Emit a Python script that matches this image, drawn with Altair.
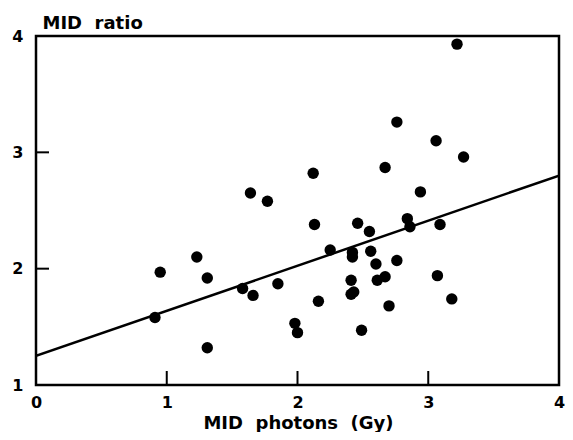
import altair as alt
import pandas as pd

# Scatter data (MID photons in Gy vs MID ratio)
x_vals = [0.91, 0.95, 1.23, 1.31, 1.31, 1.58, 1.66, 1.64, 1.77, 1.85,
          1.98, 2.00, 2.12, 2.13, 2.16, 2.25, 2.41, 2.41, 2.43, 2.42,
          2.42, 2.46, 2.49, 2.55, 2.56, 2.60, 2.61, 2.67, 2.67, 2.70,
          2.76, 2.76, 2.84, 2.86, 2.94, 3.06, 3.07, 3.09, 3.18, 3.22, 3.27]
y_vals = [1.58, 1.97, 2.10, 1.92, 1.32, 1.83, 1.77, 2.65, 2.58, 1.87,
          1.53, 1.45, 2.82, 2.38, 1.72, 2.16, 1.90, 1.78, 1.80, 2.14,
          2.10, 2.39, 1.47, 2.32, 2.15, 2.04, 1.90, 1.93, 2.87, 1.68,
          2.07, 3.26, 2.43, 2.36, 2.66, 3.10, 1.94, 2.38, 1.74, 3.93, 2.96]

# Regression line endpoints
line_x = [0, 4]
line_y = [1.25, 2.80]

# Axis ticks / labels
x_labels = [0, 1, 2, 3, 4]
y_labels = [1, 2, 3, 4]
x_inner_ticks = [1, 2, 3]
y_inner_ticks = [2, 3]

pts = pd.DataFrame({"x": x_vals, "y": y_vals})
line_df = pd.DataFrame({"x": line_x, "y": line_y})

W, H = 523, 349
FONT = "DejaVu Sans"

xs = alt.Scale(domain=[0, 4], nice=False, zero=False)
ys = alt.Scale(domain=[1, 4], nice=False, zero=False)

x_axis = alt.Axis(values=x_labels, title="MID\u00a0 photons\u00a0 (Gy)", domain=False, ticks=False,
                  grid=False, labelFont=FONT, labelFontWeight="bold", labelFontSize=16,
                  labelColor="black", labelPadding=9, labelFlush=False, labelOverlap=False,
                  titleFont=FONT, titleFontWeight="bold", titleFontSize=18, titleColor="black",
                  titleBaseline="alphabetic", titleY=43, titleX=262)
y_axis = alt.Axis(values=y_labels, title="MID\u00a0 ratio", domain=False, ticks=False,
                  grid=False, labelFont=FONT, labelFontWeight="bold", labelFontSize=16,
                  labelColor="black", labelPadding=13, labelFlush=False, labelOverlap=False,
                  titleFont=FONT, titleFontWeight="bold", titleFontSize=18, titleColor="black",
                  titleAngle=0, titleAlign="left", titleBaseline="alphabetic",
                  titleX=6, titleY=-8)

points = alt.Chart(pts).mark_circle(size=130, color="black", opacity=1).encode(
    x=alt.X("x:Q", scale=xs, axis=x_axis),
    y=alt.Y("y:Q", scale=ys, axis=y_axis),
)

reg = alt.Chart(line_df).mark_line(color="black", strokeWidth=2.5, clip=True).encode(
    x=alt.X("x:Q", scale=xs, axis=x_axis),
    y=alt.Y("y:Q", scale=ys, axis=y_axis),
)

xt = alt.Chart(pd.DataFrame({"t": x_inner_ticks})).mark_rule(color="black", strokeWidth=2).encode(
    x=alt.X("t:Q", scale=xs, axis=x_axis),
    y=alt.value(H),
    y2=alt.value(H - 14),
)
yt = alt.Chart(pd.DataFrame({"t": y_inner_ticks})).mark_rule(color="black", strokeWidth=2).encode(
    y=alt.Y("t:Q", scale=ys, axis=y_axis),
    x=alt.value(0),
    x2=alt.value(13),
)

chart = alt.layer(points, reg, xt, yt).properties(
    width=W, height=H,
    autosize="none",
    background="white",
    padding={"left": 28, "top": 28, "right": 6, "bottom": 47},
).configure_view(stroke="black", strokeWidth=2.5)

chart.save("out.html", embed_options={"renderer": "svg", "actions": False})
